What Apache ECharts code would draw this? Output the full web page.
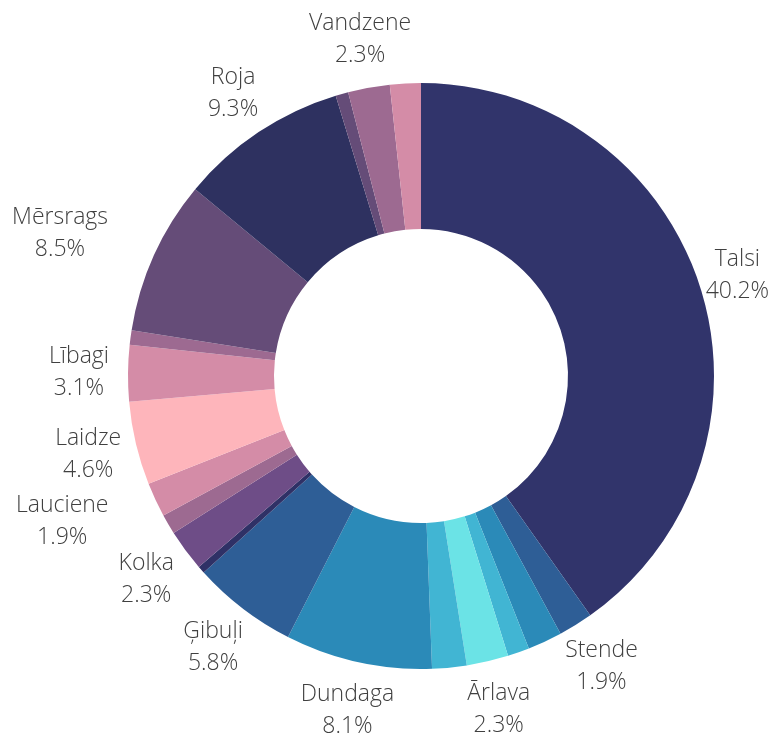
<!DOCTYPE html>
<html>
<head>
<meta charset="utf-8">
<script src="https://cdn.jsdelivr.net/npm/echarts@6/dist/echarts.min.js"></script>
<style>
  html, body { margin: 0; padding: 0; background: #fff; }
  #chart { width: 780px; height: 738px; }
</style>
</head>
<body>
<div id="chart"></div>
<script>
// slices clockwise from 12 o'clock; '' = small slice without a label
var names = ['Talsi', 'Stende', '', '', 'Ārlava', '', 'Dundaga', 'Ģibuļi', '', 'Kolka',
             '', 'Lauciene', 'Laidze', 'Lībagi', '', 'Mērsrags', 'Roja', '', 'Vandzene', ''];
var shares = [40.2, 1.9, 1.9, 1.2, 2.3, 1.9, 8.1, 5.8, 0.4, 2.3,
              1.1, 1.9, 4.6, 3.1, 0.8, 8.5, 9.3, 0.7, 2.3, 1.7];
var colors = ['#31346b', '#2e5e96', '#2b8ab8', '#41b5d3', '#6be3e6', '#41b5d3', '#2b8ab8', '#2e5e96', '#2f3166', '#6e4d87',
              '#9d6a91', '#d48ca7', '#feb5bb', '#d48ca7', '#9d6a91', '#654c78', '#2e3160', '#654c78', '#9d6a91', '#d48ca7'];

// label placement tweaks: [radial px, angle deg]
var labelShift = {
    'Talsi': [-10, 0],
    'Lauciene': [45, 3],
    'Mērsrags': [46, -2.8],
    'Roja': [-3, 0]
};

var cx = 421, cy = 376, rIn = 147, rOut = 293, labelR = 342;

var total = shares.reduce(function (a, b) { return a + b; }, 0);
var acc = 0;
var midAngles = shares.map(function (v) {
    var m = (acc + v / 2) / total * Math.PI * 2;
    acc += v;
    return m;
});

var chart = echarts.init(document.getElementById('chart'));

var option = {
    animation: false,
    series: [{
        type: 'pie',
        center: [cx, cy],
        radius: [rIn, rOut],
        startAngle: 90,
        clockwise: true,
        avoidLabelOverlap: false,
        percentPrecision: 1,
        label: {
            show: true,
            position: 'outside',
            formatter: '{b}\n{d}%',
            fontFamily: 'Open Sans',
            fontWeight: 300,
            fontSize: 23,
            lineHeight: 32,
            color: '#404040'
        },
        labelLine: { show: false },
        emphasis: { disabled: true },
        labelLayout: function (p) {
            var s = labelShift[names[p.dataIndex]] || [0, 0];
            var m = midAngles[p.dataIndex] + s[1] * Math.PI / 180;
            var d = labelR + s[0];
            return {
                x: cx + Math.sin(m) * d,
                y: cy - Math.cos(m) * d,
                align: 'center',
                verticalAlign: 'middle'
            };
        },
        data: shares.map(function (v, i) {
            return {
                name: names[i],
                value: v,
                itemStyle: { color: colors[i] },
                label: { show: names[i] !== '' }
            };
        })
    }]
};

chart.setOption(option);
</script>
</body>
</html>
